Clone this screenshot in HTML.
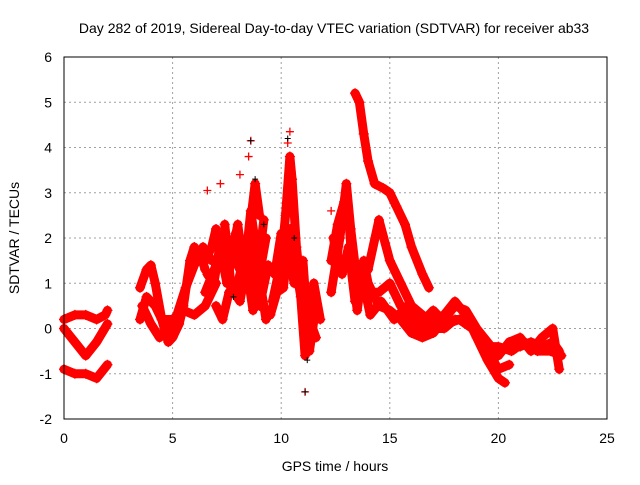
<!DOCTYPE html>
<html><head><meta charset="utf-8"><style>
body{margin:0;background:#fff;width:640px;height:480px;overflow:hidden;font-family:"Liberation Sans",sans-serif}
svg text{font-family:"Liberation Sans",sans-serif;font-size:14px;fill:#000}
</style></head><body>
<svg id="chart" width="640" height="480" viewBox="0 0 640 480">
<text x="334" y="33" text-anchor="middle" font-size="14">Day 282 of 2019, Sidereal Day-to-day VTEC variation (SDTVAR) for receiver ab33</text>
<g id="grid"></g>
<g id="marks"></g>
<rect x="64" y="57" width="543" height="362" fill="none" stroke="#000" stroke-width="1"/>
<g id="ticks"></g>
<text x="335" y="471" text-anchor="middle">GPS time / hours</text>
<text transform="translate(19,238) rotate(-90)" text-anchor="middle">SDTVAR / TECUs</text>
</svg>
<script>
const xTicks=[0,5,10,15,20,25];
const yTicks=[-2,-1,0,1,2,3,4,5,6];
const traceA=[[0,0.2],[0.5,0.3],[1,0.3],[1.5,0.2],[1.9,0.3],[2,0.4]];
const traceB=[[0,0],[0.5,-0.3],[1,-0.6],[1.5,-0.3],[2,0.1]];
const traceC=[[0,-0.9],[0.5,-1.0],[1,-1.0],[1.5,-1.1],[2,-0.8]];
const traceD=[[3.5,0.9],[3.8,1.3],[4.0,1.4],[4.2,1.0],[4.5,0.2],[4.8,-0.3],[5,-0.2],[5.3,0.1],[5.5,0.5],[5.8,1.5],[6.0,1.8],[6.3,1.6],[6.5,1.3]];
const traceD2=[[3.5,0.2],[3.8,0.7],[4.2,0.5],[4.5,0.2],[5,0.2],[5.5,0.4],[6,0.3],[6.5,0.5],[7,1.0]];
const traceD3=[[3.6,0.5],[4,0.1],[4.4,-0.2],[4.8,0.0],[5.2,0.3],[5.6,0.9],[6,1.4],[6.4,1.8],[6.8,1.5]];
const traceE=[[6.5,1.5],[6.8,1.8],[7,2.2],[7.3,1.5],[7.5,1.0],[7.8,1.8],[8,2.3],[8.3,1.2],[8.6,2.6],[9,1.2],[9.3,2.0]];
const traceE2=[[6.5,0.8],[7,1.4],[7.5,2.0],[8,1.4],[8.5,0.9],[9,0.5],[9.4,1.4]];
const traceE3=[[7,0.5],[7.3,0.2],[7.6,0.8],[8.0,1.0],[8.5,2.0],[8.8,3.2],[9,2.5]];
const traceE4=[[6.6,1.2],[6.9,1.0],[7.2,1.9],[7.6,1.3],[7.9,2.1],[8.2,1.6],[8.5,1.2],[8.8,1.8],[9.1,0.8],[9.3,0.2]];
const traceE5=[[7.4,2.3],[7.7,0.9],[8.1,0.6],[8.4,1.4],[8.7,0.4],[9.0,1.6],[9.2,2.4]];
const traceF=[[9.6,0.6],[10,1.5],[10.2,2.5],[10.4,3.8],[10.5,3.3],[10.7,1.8],[11,0.5],[11.2,-0.3],[11.5,1.0],[11.8,0.2]];
const traceF2=[[9.7,1.2],[10,2.1],[10.3,1.7],[10.6,1.0],[11,1.5],[11.3,-0.5],[11.6,0.5]];
const traceF3=[[9.5,0.3],[9.8,0.8],[10.1,0.9],[10.4,2.2],[10.7,1.3],[10.9,0.7],[11.1,-0.6],[11.3,0.2],[11.6,-0.2]];
const traceG=[[12.3,1.5],[12.6,2.3],[12.9,2.8],[13.1,2.5],[13.3,1.2],[13.5,0.4],[13.8,1.5],[14,1.0],[14.5,0.5],[15,0.4],[15.5,0.2],[16,-0.1],[16.5,-0.2],[17,-0.1],[17.5,0.2],[18,0.5],[18.5,0.4],[19,0],[19.5,-0.3],[20,-0.6],[20.5,-0.3],[21,-0.4],[21.5,-0.3],[22,-0.4],[22.5,-0.3],[22.8,-0.5]];
const traceG2=[[12.3,0.8],[12.7,2.0],[13,3.2],[13.2,2.2],[13.5,1.0],[14,0.8],[14.5,0.8],[15,1.0],[15.5,0.5],[16,0.2],[16.5,-0.1],[17,0.2],[17.5,0.3],[18,0.6],[18.5,0.3],[19,-0.2],[19.5,-0.7],[20,-1.1],[20.3,-1.2]];
const traceG3=[[13.4,5.2],[13.6,5.0],[13.8,4.3],[14,3.7],[14.3,3.2],[14.7,3.1],[15,3.0],[15.3,2.7],[15.7,2.3],[16,1.8],[16.5,1.2],[16.8,0.9]];
const traceG4=[[14,1.3],[14.5,2.4],[15,1.5],[15.5,1.0],[16,0.5],[16.5,0.3],[17,0],[17.5,0],[18,0.2],[18.5,0.2],[19,-0.1],[19.5,-0.5],[20,-0.9],[20.5,-0.8]];
const traceG5=[[20.5,-0.3],[21,-0.2],[21.5,-0.5],[22,-0.2],[22.5,0],[22.8,-0.9]];
const traceG6=[[12.4,2.0],[12.8,1.2],[13.1,1.8],[13.4,0.6],[13.7,1.2],[14.1,0.3],[14.6,0.6],[15.2,0.2],[15.8,0.5],[16.4,0.1],[17,0.4],[17.6,0.1],[18.2,0.2],[18.8,0.0],[19.4,-0.4],[20,-0.4],[20.6,-0.5],[21.2,-0.3],[21.8,-0.5],[22.4,-0.5],[22.9,-0.6]];
const outliers=[[6.6,3.05],[7.2,3.2],[8.6,4.15],[8.5,3.8],[10.4,4.35],[10.3,4.1],[11.1,-1.4],[12.3,2.6],[8.1,3.4]];
const blackPoints=[[8.6,4.15],[10.3,4.2],[9.2,2.3],[11.1,-1.4],[11.2,-0.7],[7.8,0.7],[8.8,3.3],[10.6,2.0]];
const traces=[traceA,traceB,traceC,traceD,traceD2,traceD3,traceE,traceE2,traceE3,traceE4,traceE5,traceF,traceF2,traceF3,traceG,traceG2,traceG3,traceG4,traceG5,traceG6];
const NS="http://www.w3.org/2000/svg";
function xs(v){return 64+v*(543/25);}
function ys(v){return 419-(v+2)*(362/8);}
function mk(tag,attrs,parent){const e=document.createElementNS(NS,tag);for(const k in attrs)e.setAttribute(k,attrs[k]);parent.appendChild(e);return e;}
const grid=document.getElementById('grid'),ticks=document.getElementById('ticks'),marks=document.getElementById('marks');
xTicks.forEach(t=>{
 if(t>0&&t<25){const g=mk('line',{x1:xs(t),x2:xs(t),y1:57,y2:419,stroke:'#a0a0a0','stroke-dasharray':'2,3'},grid);
 
 }
 const tl=mk('text',{x:xs(t),y:443,'text-anchor':'middle'},ticks);tl.textContent=t;
 
 
});
yTicks.forEach(t=>{
 if(t>-2&&t<6){const g=mk('line',{x1:64,x2:607,y1:ys(t),y2:ys(t),stroke:'#a0a0a0','stroke-dasharray':'2,3'},grid);
 
 }
 const tl=mk('text',{x:52,y:ys(t)+5,'text-anchor':'end'},ticks);tl.textContent=t;
 
 
});
traces.forEach(tr=>{
 const p=mk('polyline',{points:tr.map(d=>xs(d[0])+','+ys(d[1])).join(' '),fill:'none',stroke:'#ff0000','stroke-width':9,'stroke-linejoin':'round','stroke-linecap':'round'},marks);
 
 
 tr.forEach(d=>{
  const m=mk('path',{d:`M${xs(d[0])-5},${ys(d[1])}h10M${xs(d[0])},${ys(d[1])-5}v10`,stroke:'#ff0000','stroke-width':1.3},marks);
  
  
 });
});
outliers.forEach(d=>{
 const m=mk('path',{d:`M${xs(d[0])-4},${ys(d[1])}h8M${xs(d[0])},${ys(d[1])-4}v8`,stroke:'#ff0000','stroke-width':1.3},marks);
 
 
});
blackPoints.forEach(d=>{
 const m=mk('path',{d:`M${xs(d[0])-3},${ys(d[1])}h6M${xs(d[0])},${ys(d[1])-3}v6`,stroke:'#000','stroke-width':1},marks);
 
 
});
</script>
</body></html>
